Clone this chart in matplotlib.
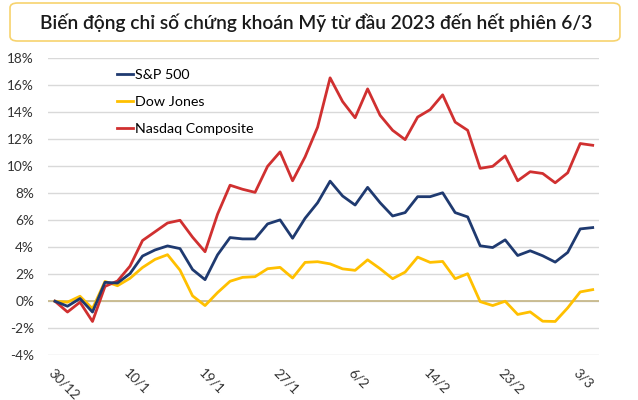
import matplotlib
matplotlib.use("Agg")
from matplotlib import pyplot as plt
from matplotlib.patches import FancyBboxPatch

plt.rcParams['font.family'] = ['Lato', 'DejaVu Sans']

# phien giao dich tu 30/12/2022 den 6/3/2023
tick_labels = ["30/12", "10/1", "19/1", "27/1", "6/2", "14/2", "23/2", "3/3"]
tick_pos = [0, 6, 12, 18, 24, 30, 36, 42]

sp500 = [0.0, -0.37, 0.2, -0.8, 1.4, 1.35, 2.05, 3.35, 3.8, 4.1, 3.9, 2.35,
         1.6, 3.44, 4.72, 4.62, 4.62, 5.73, 6.03, 4.67, 6.15, 7.3, 8.9, 7.8,
         7.13, 8.44, 7.3, 6.32, 6.57, 7.75, 7.75, 8.04, 6.57, 6.25, 4.11, 3.98,
         4.55, 3.39, 3.74, 3.37, 2.9, 3.62, 5.36, 5.46]
dow = [0.0, -0.07, 0.37, -0.55, 1.47, 1.15, 1.7, 2.5, 3.1, 3.45, 2.3, 0.4,
       -0.32, 0.64, 1.48, 1.77, 1.82, 2.41, 2.51, 1.72, 2.88, 2.93, 2.77, 2.4,
       2.29, 3.07, 2.41, 1.67, 2.16, 3.27, 2.88, 2.95, 1.67, 2.04, -0.03, -0.32,
       0.0, -0.98, -0.79, -1.48, -1.5, -0.49, 0.69, 0.86]
nasdaq = [0.0, -0.8, -0.07, -1.5, 1.1, 1.5, 2.6, 4.5, 5.15, 5.8, 6.0, 4.75,
          3.67, 6.45, 8.6, 8.3, 8.07, 10.0, 11.07, 8.93, 10.7, 12.9, 16.56, 14.8,
          13.6, 15.74, 13.78, 12.67, 11.98, 13.65, 14.2, 15.3, 13.28, 12.67, 9.85, 10.0,
          10.77, 8.93, 9.6, 9.47, 8.78, 9.52, 11.69, 11.56]

fig = plt.figure(figsize=(6.38, 4.0), dpi=100)
ax = fig.add_axes([0.0752, 0.112, 0.864, 0.742])

days = list(range(len(sp500)))
ax.axhline(0, color='#C8B98C', lw=1.3, zorder=1)
ax.plot(days, sp500, color='#1F3A70', lw=2.0, label='S&P 500', zorder=3)
ax.plot(days, dow, color='#FFC000', lw=2.0, label='Dow Jones', zorder=2)
ax.plot(days, nasdaq, color='#D03030', lw=2.0, label='Nasdaq Composite', zorder=2)

ax.set_xlim(-0.56, 43.52)
ax.set_ylim(-4, 18)
ax.set_yticks(range(-4, 19, 2))
ax.set_yticklabels([f"{v}%" for v in range(-4, 19, 2)])
ax.grid(axis='y', color='#D9D9D9', lw=1.0)
ax.set_axisbelow(True)
ax.set_xticks(tick_pos)
ax.set_xticklabels(tick_labels, rotation=-45, ha='left', va='top',
                   rotation_mode='anchor')
ax.tick_params(length=0, labelsize=9.8, colors='#333333', pad=8)
ax.tick_params(axis='y', pad=10)
for s in ax.spines.values():
    s.set_visible(False)

ax.legend(loc='upper left', bbox_to_anchor=(0.102, 1.008), frameon=False,
          fontsize=10.3, handlelength=1.1, handletextpad=0.15, labelspacing=1.05)

box = FancyBboxPatch((0.0157, 0.8975), 0.956, 0.095, transform=fig.transFigure,
                     boxstyle='round,pad=0,rounding_size=0.012',
                     facecolor='white', edgecolor='#F7D36E', lw=1.2)
fig.patches.append(box)
fig.text(0.495, 0.944, "Biến động chỉ số chứng khoán Mỹ từ đầu 2023 đến hết phiên 6/3",
         ha='center', va='center', fontsize=13.8, fontweight='semibold', color='#1A1A1A')

fig.savefig("out.png", dpi=100)
